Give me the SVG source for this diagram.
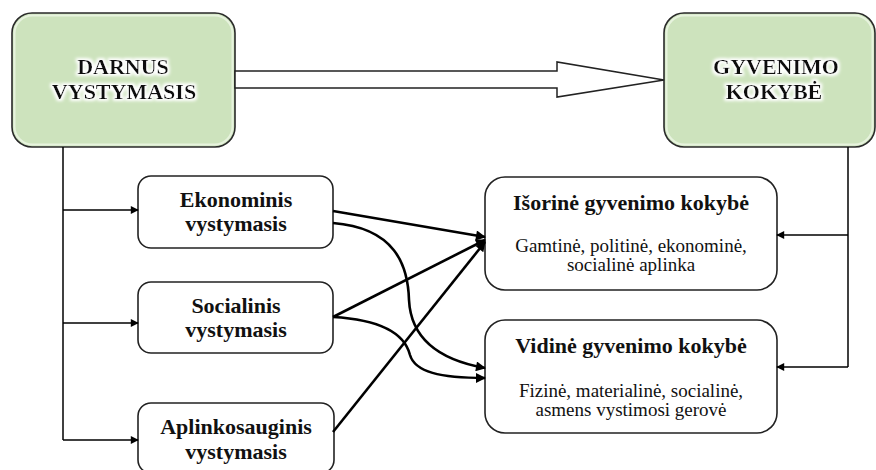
<svg xmlns="http://www.w3.org/2000/svg" width="876" height="470" viewBox="0 0 876 470">
<defs>
<style>
.green{fill:#cde3bd;stroke:#2a2a2a;stroke-width:1.6}
.box{fill:#fff;stroke:#222;stroke-width:1.6}
.hd{font-family:"Liberation Serif","Times New Roman",serif;font-weight:bold;font-size:22px;fill:#111;text-anchor:middle}
.tx{font-family:"Liberation Serif","Times New Roman",serif;font-size:19px;fill:#111;text-anchor:middle}
.ln{fill:none;stroke:#000;stroke-width:1.5}
.cv{fill:none;stroke:#000;stroke-width:2.6}
</style>
<marker id="ah" viewBox="0 0 10 10" refX="9" refY="5" markerWidth="10" markerHeight="8" markerUnits="userSpaceOnUse" orient="auto">
<path d="M0,0 L10,5 L0,10 Z" fill="#000"/>
</marker>
<marker id="ah2" viewBox="0 0 10 10" refX="9" refY="5" markerWidth="13" markerHeight="10" markerUnits="userSpaceOnUse" orient="auto">
<path d="M0,0 L10,5 L0,10 Z" fill="#000"/>
</marker>
<filter id="glow" x="-20%" y="-40%" width="140%" height="180%">
<feMorphology in="SourceAlpha" operator="dilate" radius="1.5" result="d"/>
<feGaussianBlur in="d" stdDeviation="1.8" result="b"/>
<feFlood flood-color="#ffffff"/>
<feComposite in2="b" operator="in" result="g"/>
<feMerge><feMergeNode in="g"/><feMergeNode in="SourceGraphic"/></feMerge>
</filter>
</defs>

<g id="darnus">
<rect class="green" x="12" y="13" width="223" height="134" rx="20"/>
<rect x="14.5" y="15.5" width="218" height="129" rx="18" fill="none" stroke="#eef6e6" stroke-width="2" opacity="0.8"/>
<g filter="url(#glow)">
<text class="hd" x="123" y="74">DARNUS</text>
<text class="hd" x="124" y="99">VYSTYMASIS</text>
</g>
</g>

<g id="gyvenimo">
<rect class="green" x="664" y="13" width="211" height="134" rx="20"/>
<rect x="666.5" y="15.5" width="206" height="129" rx="18" fill="none" stroke="#eef6e6" stroke-width="2" opacity="0.8"/>
<g filter="url(#glow)">
<text class="hd" x="776" y="74">GYVENIMO</text>
<text class="hd" x="774" y="99">KOKYBĖ</text>
</g>
</g>

<g id="ekonominis">
<rect class="box" x="138" y="176" width="195" height="72" rx="13"/>
<text class="hd" x="236" y="207">Ekonominis</text>
<text class="hd" x="236" y="231">vystymasis</text>
</g>

<g id="socialinis">
<rect class="box" x="138" y="282" width="195" height="71" rx="13"/>
<text class="hd" x="236" y="313">Socialinis</text>
<text class="hd" x="236" y="337">vystymasis</text>
</g>

<g id="aplinkosauginis">
<rect class="box" x="138" y="403" width="196" height="70" rx="13"/>
<text class="hd" x="236" y="434">Aplinkosauginis</text>
<text class="hd" x="236" y="459">vystymasis</text>
</g>

<g id="isorine">
<rect class="box" x="485" y="177" width="292" height="113" rx="20"/>
<text class="hd" x="631" y="210">Išorinė gyvenimo kokybė</text>
<text class="tx" x="631" y="252">Gamtinė, politinė, ekonominė,</text>
<text class="tx" x="631" y="271">socialinė aplinka</text>
</g>

<g id="vidine">
<rect class="box" x="485" y="320" width="292" height="113" rx="20"/>
<text class="hd" x="631" y="353">Vidinė gyvenimo kokybė</text>
<text class="tx" x="631" y="397">Fizinė, materialinė, socialinė,</text>
<text class="tx" x="631" y="416">asmens vystimosi gerovė</text>
</g>

<g id="connectors">
<polygon points="235,71 557,71 557,62 664,80 557,97 557,88 235,88" fill="#fff" stroke="#222" stroke-width="1.5" stroke-linejoin="miter"/>
<path class="ln" d="M63,147 V440"/>
<path class="ln" d="M63,210 H138" marker-end="url(#ah)"/>
<path class="ln" d="M63,323 H138" marker-end="url(#ah)" stroke-width="2.4"/>
<path class="ln" d="M63,440 H138" marker-end="url(#ah)"/>
<path class="ln" d="M848,147 V367"/>
<path class="ln" d="M848,235 H777" marker-end="url(#ah)" stroke-width="2.6"/>
<path class="ln" d="M848,367 H777" marker-end="url(#ah)" stroke-width="2"/>
<path class="cv" d="M333,211 L485,237" marker-end="url(#ah2)"/>
<path class="cv" d="M333,223 C395,228 408,265 409,300 C411,340 440,360 485,368" marker-end="url(#ah2)"/>
<path class="cv" d="M333,317 L485,240" marker-end="url(#ah2)"/>
<path class="cv" d="M333,317 C385,320 405,335 410,355 C415,372 440,378 485,378" marker-end="url(#ah2)"/>
<path class="cv" d="M333,432 L485,242" marker-end="url(#ah2)"/>
</g>
</svg>
